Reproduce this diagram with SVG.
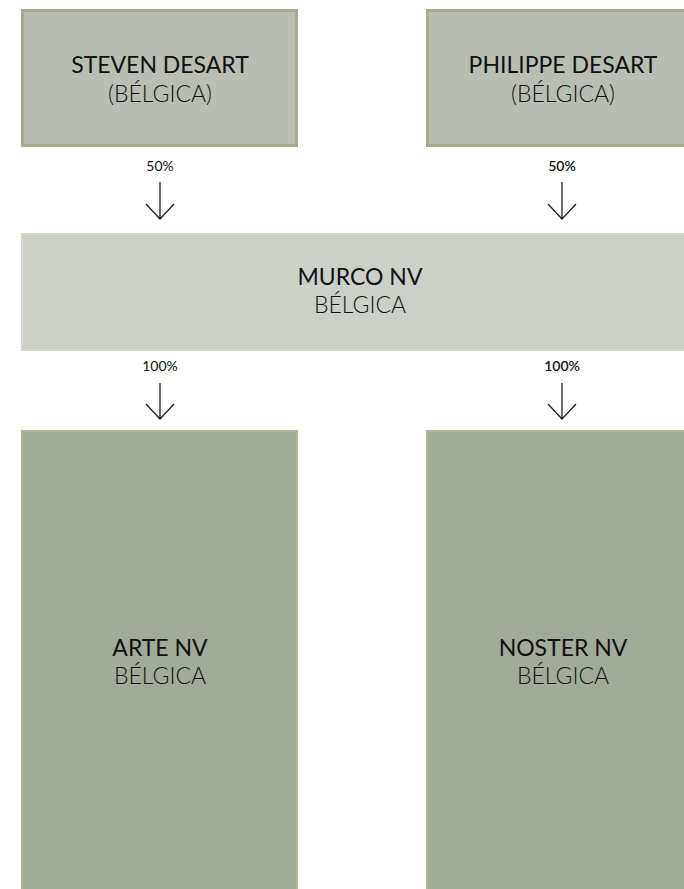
<svg xmlns="http://www.w3.org/2000/svg" width="684" height="889" viewBox="0 0 684 889">
<style>
.top{fill:#b9beb4;stroke:#a8ac8c;stroke-width:3}
.mid{fill:#cbd0c8;stroke:#d5d6c6;stroke-width:2}
.bot{fill:#a2aa9a;stroke:#b3b596;stroke-width:2}
.name{font-family:Lato,"Liberation Sans",sans-serif;font-size:23px;fill:#111;text-anchor:middle}
.sub{font-family:Lato,"Liberation Sans",sans-serif;font-weight:300;font-size:23px;fill:#111;text-anchor:middle}
.pct{font-family:Lato,"Liberation Sans",sans-serif;font-size:14px;fill:#111;text-anchor:middle}
.pctb{font-weight:600}
.arr{fill:none;stroke:#222;stroke-width:1.3}
</style>
<rect width="684" height="889" fill="#fff"/>
<g id="steven">
<rect class="top" x="22.5" y="10.5" width="274" height="135"/>
<text class="name" x="160" y="73">STEVEN DESART</text>
<text class="sub" x="160" y="102">(BÉLGICA)</text>
</g>
<g id="philippe">
<rect class="top" x="427.5" y="10.5" width="274" height="135"/>
<text class="name" x="563" y="73">PHILIPPE DESART</text>
<text class="sub" x="563" y="102">(BÉLGICA)</text>
</g>
<g id="murco">
<rect class="mid" x="22" y="234" width="690" height="116"/>
<text class="name" x="360" y="285">MURCO NV</text>
<text class="sub" x="360" y="313">BÉLGICA</text>
</g>
<g id="arte">
<rect class="bot" x="22" y="431" width="275" height="470"/>
<text class="name" x="160" y="656">ARTE NV</text>
<text class="sub" x="160" y="684">BÉLGICA</text>
</g>
<g id="noster">
<rect class="bot" x="427" y="431" width="275" height="470"/>
<text class="name" x="563" y="656">NOSTER NV</text>
<text class="sub" x="563" y="684">BÉLGICA</text>
</g>
<g id="connectors">
<text class="pct" x="160" y="171">50%</text>
<path class="arr" d="M160 182V219M146 204L160 219L174 204"/>
<text class="pct pctb" x="562" y="171">50%</text>
<path class="arr" d="M562 182V219M548 204L562 219L576 204"/>
<text class="pct" x="160" y="371">100%</text>
<path class="arr" d="M160 383V419M146 404L160 419L174 404"/>
<text class="pct pctb" x="562" y="371">100%</text>
<path class="arr" d="M562 383V419M548 404L562 419L576 404"/>
</g>
</svg>
